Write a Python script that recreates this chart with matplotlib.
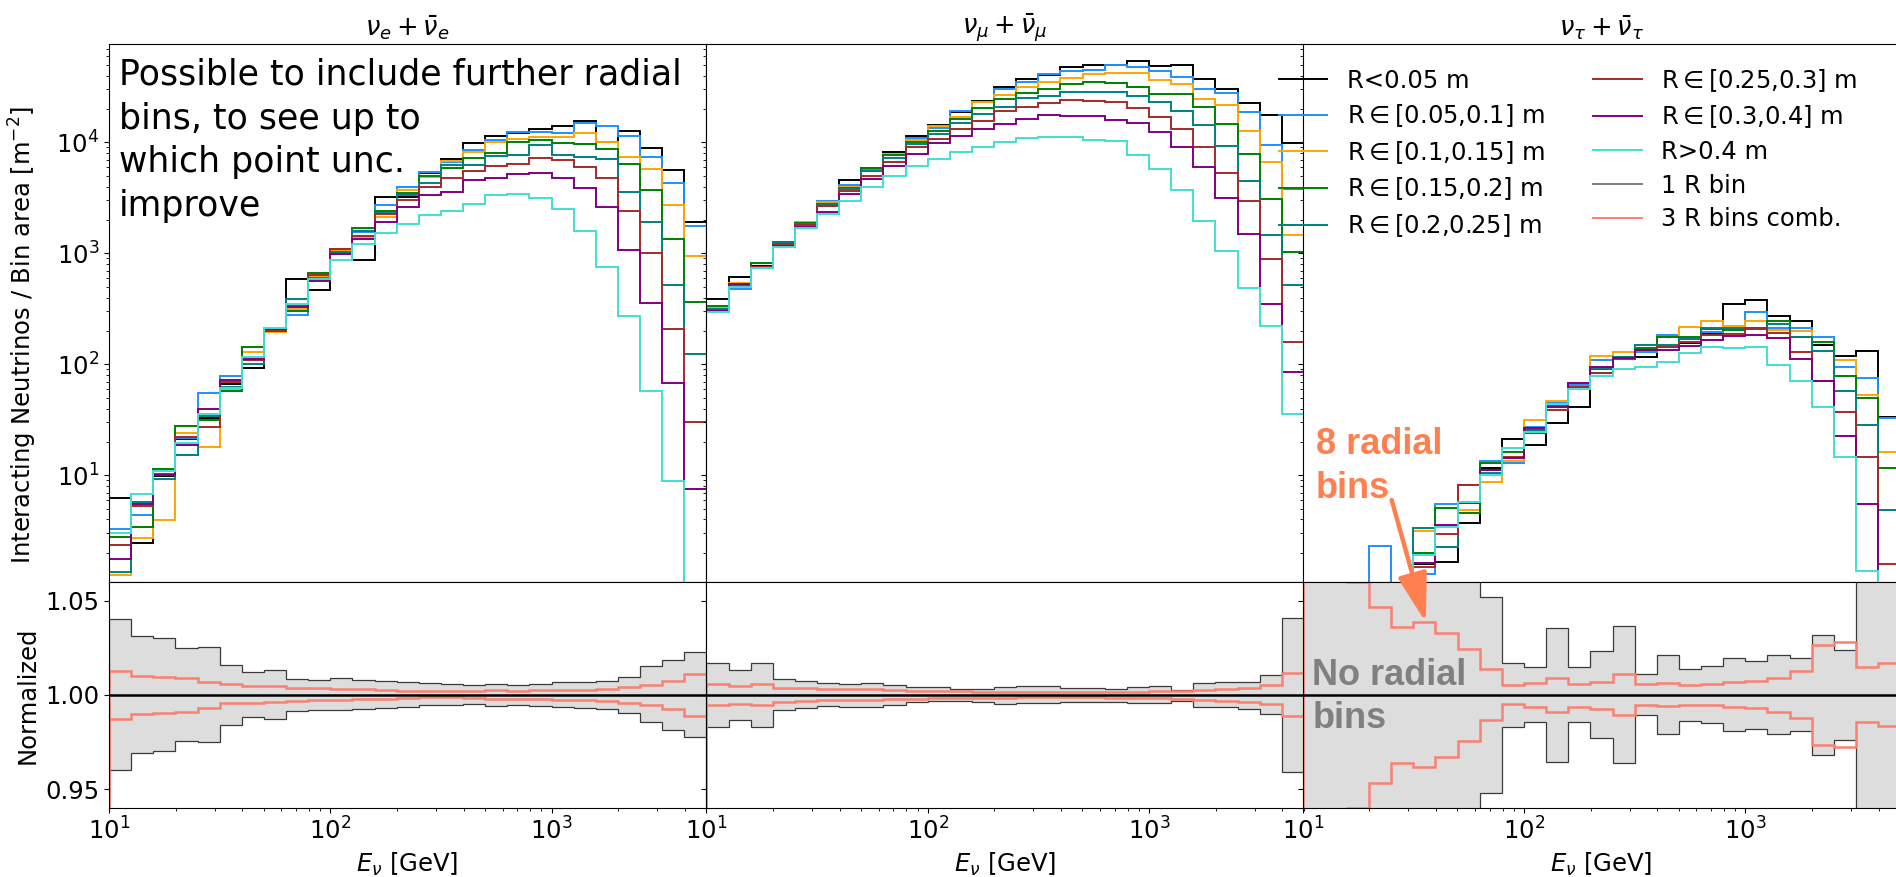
import numpy as np
import matplotlib
matplotlib.use("Agg")
import matplotlib.pyplot as plt
from matplotlib.lines import Line2D

plt.rcParams['font.family'] = ['DejaVu Sans']
plt.rcParams['mathtext.fontset'] = 'dejavusans'
FS = 17.5

# ---------------- data ----------------
# energy bin edges: 10 log bins per decade from 10 GeV
edges = np.logspace(1.0, 3.7, 28)

series_labels = ["R<0.05 m", r"R$\in$[0.05,0.1] m", r"R$\in$[0.1,0.15] m",
                 r"R$\in$[0.15,0.2] m", r"R$\in$[0.2,0.25] m", r"R$\in$[0.25,0.3] m",
                 r"R$\in$[0.3,0.4] m", "R>0.4 m"]
series_colors = ["black", "dodgerblue", "orange", "green", "teal", "brown", "purple", "turquoise"]
band_label = "1 R bin"
comb_label = "3 R bins comb."
titles = [r"$\nu_e + \bar{\nu}_e$", r"$\nu_\mu + \bar{\nu}_\mu$", r"$\nu_\tau + \bar{\nu}_\tau$"]

# nu_e + nu_e_bar
e_black = [6.3, 2.47, 9.9, 21.1, 33, 66, 93, 205, 583, 464, 1090, 870, 3200, 3240, 5330, 7080, 9790, 11400, 12050, 13090, 14030, 15560, 10140, 12740, 8830, 5630, 1930]
e_blue = [3.27, 4.4, 10.2, 21.6, 55.6, 79, 110, 198, 277, 590, 1040, 1550, 2720, 3990, 5440, 6700, 8530, 10500, 12300, 12480, 12220, 14830, 14130, 11400, 7330, 4340, 1760]
e_orange = [1.26, 2.7, 3.96, 24.2, 17.9, 60.5, 129, 195, 315, 620, 1050, 1400, 2140, 3720, 4910, 6840, 8240, 10140, 10640, 11090, 11090, 12050, 10140, 7330, 5710, 2720, 946]
e_green = [2.8, 3.45, 11.3, 28, 31.6, 57.5, 143, 200, 302, 660, 1010, 1700, 2420, 3470, 4980, 5830, 7170, 8070, 10140, 10500, 9790, 9660, 8710, 6380, 3720, 1350, 367]
e_teal = [1.34, 5.8, 9.2, 15.2, 34.5, 62, 100, 202, 385, 600, 1020, 1590, 2290, 3350, 4340, 6250, 6250, 7530, 7690, 9460, 7690, 7430, 7030, 3590, 1930, 519, 123]
e_brown = [2.35, 5.3, 10.3, 22.3, 27.5, 70, 109, 205, 335, 634, 1100, 1430, 2270, 3020, 3990, 4740, 5550, 6120, 6380, 7170, 6930, 6040, 4810, 2420, 1010, 208, 30]
e_purple = [1.76, 5.5, 10.0, 18.8, 39.6, 72, 112, 210, 330, 563, 990, 1335, 1930, 2630, 3350, 3590, 4580, 4810, 5190, 5330, 4810, 3850, 2630, 1070, 359, 68, 7.5]
e_turq = [3.0, 6.8, 11.0, 19.4, 35.5, 61.6, 116, 214, 350, 587, 870, 1220, 1515, 1840, 2210, 2410, 2780, 3350, 3430, 3170, 2510, 1600, 758, 272, 57, 8.8, 0]

# nu_mu + nu_mu_bar
m_black = [391, 617, 770, 1257, 1900, 2876, 4580, 5870, 8180, 11400, 14300, 18800, 23600, 31500, 37500, 40700, 47400, 49700, 49700, 54000, 49000, 50100, 36900, 30200, 22600, 17600, 9790]
m_blue = [320, 480, 760, 1200, 1850, 2958, 4100, 5700, 7900, 10860, 13500, 19000, 23100, 30000, 35000, 41000, 43900, 44800, 49700, 48000, 43900, 39100, 30200, 27600, 18800, 9530, 3830]
m_orange = [320, 545, 760, 1200, 1914, 2900, 4000, 5500, 7900, 10500, 14030, 17020, 23100, 27000, 31700, 35200, 38200, 41000, 42200, 41900, 36700, 33500, 24400, 21700, 12700, 6610, 1460]
m_green = [338, 500, 824, 1230, 1870, 2760, 3880, 5870, 7740, 10140, 12730, 16220, 20500, 24700, 28000, 30200, 33300, 35200, 34500, 31500, 27100, 27400, 20800, 14600, 7800, 3110, 1020]
m_teal = [315, 500, 760, 1257, 1850, 2700, 3800, 5520, 7300, 9600, 11800, 15030, 17980, 21000, 24900, 26300, 28600, 28400, 28400, 26300, 23100, 19300, 14300, 9270, 4450, 1460, 519]
m_brown = [310, 510, 750, 1200, 1800, 2650, 3670, 5010, 6700, 9010, 10790, 13190, 15660, 19000, 20700, 22800, 24000, 23600, 22900, 20200, 17000, 13100, 9140, 5260, 2980, 883, 159]
m_purple = [305, 526, 740, 1172, 1738, 2340, 3430, 4680, 6160, 7850, 9790, 11480, 13100, 14600, 16100, 17500, 17400, 17400, 15900, 14800, 12400, 9140, 6040, 3130, 1500, 350, 85]
m_turq = [298, 494, 740, 1132, 1680, 2245, 2980, 3960, 4980, 6120, 7080, 8130, 9010, 10000, 11000, 11200, 11200, 10600, 10300, 7640, 5750, 3720, 1950, 1050, 491, 221, 36]

# nu_tau + nu_tau_bar
t_black = [0, 0, 0, 0, 0, 1.59, 1.67, 3.7, 11.6, 21.1, 18.8, 29.4, 41.6, 84, 116, 117, 142, 155, 186, 352, 380, 272, 247, 149, 120, 133, 33.8]
t_blue = [0, 0, 0, 2.31, 0, 1.29, 5.5, 8.2, 13.5, 12.8, 27.4, 44.6, 65, 109, 116, 130, 185, 169, 197, 211, 294, 214, 211, 177, 95, 75, 32.7]
t_orange = [0, 0, 0, 0, 0, 3.15, 3.57, 4.9, 8.65, 13.5, 31.5, 47, 67.5, 120, 130, 135, 177, 218, 245, 221, 244, 204, 201, 160, 109, 53, 16.1]
t_green = [0, 0, 0, 0, 0, 1.98, 5.05, 4.6, 12.8, 16.3, 25.6, 42, 63, 90, 117, 139, 175, 175, 207, 204, 207, 247, 177, 160, 79, 49.4, 11.6]
t_teal = [0, 0, 0, 0, 0, 3.38, 2.24, 5.75, 10.4, 17.5, 25.2, 42, 63, 92, 117, 148, 149, 168, 211, 211, 211, 231, 175, 132, 57.5, 28.4, 4.9]
t_brown = [0, 0, 0, 0, 0, 1.48, 2.96, 8.2, 11.2, 14.6, 23.9, 38.8, 63, 83, 111, 136, 144, 160, 184, 188, 214, 193, 129, 71, 37, 14.7, 1.58]
t_purple = [0, 0, 0, 0, 0, 1.63, 3.55, 5.6, 11.1, 14.2, 26.5, 41.6, 68.4, 94, 113, 135, 135, 147, 166, 180, 184, 171, 112, 71, 22.7, 5.5, 0]
t_turq = [0, 0, 0, 0, 0, 1.91, 3.45, 5.8, 10.0, 17.5, 24.7, 44, 59.6, 78.5, 91, 95, 104, 126, 142, 139, 142, 99, 71, 41.6, 14.5, 1.38, 0]

# normalized uncertainty bands: "1 R bin" (gray) and "3 R bins comb." (salmon)
e_band_up = [1.040, 1.031, 1.030, 1.025, 1.0254, 1.016, 1.012, 1.013, 1.0084, 1.008, 1.0088, 1.008, 1.0075, 1.0066, 1.0063, 1.006, 1.0052, 1.006, 1.0054, 1.0059, 1.0066, 1.007, 1.0075, 1.0096, 1.0155, 1.0186, 1.0227]
e_band_lo = [0.960, 0.969, 0.970, 0.9754, 0.975, 0.9838, 0.988, 0.987, 0.9914, 0.9918, 0.992, 0.9923, 0.993, 0.9938, 0.9945, 0.9946, 0.995, 0.994, 0.9946, 0.994, 0.9936, 0.993, 0.9923, 0.9905, 0.9855, 0.9816, 0.9775]
e_comb_up = [1.0125, 1.0102, 1.0096, 1.0091, 1.007, 1.0059, 1.0045, 1.0048, 1.0036, 1.0034, 1.0032, 1.0029, 1.0025, 1.0023, 1.002, 1.002, 1.0021, 1.0025, 1.0023, 1.0025, 1.0027, 1.0027, 1.0032, 1.004, 1.0054, 1.0075, 1.011]
e_comb_lo = [0.9873, 0.990, 0.9905, 0.991, 0.9932, 0.9955, 0.9959, 0.9963, 0.9968, 0.9973, 0.9973, 0.9977, 0.998, 0.9982, 0.9986, 0.9986, 0.9982, 0.9977, 0.9977, 0.9977, 0.9973, 0.9971, 0.9968, 0.9959, 0.9946, 0.9923, 0.989]

m_band_up = [1.017, 1.0134, 1.0168, 1.0084, 1.0075, 1.0063, 1.0055, 1.0064, 1.0054, 1.0043, 1.0043, 1.0032, 1.0032, 1.0041, 1.0046, 1.0046, 1.0038, 1.0038, 1.0032, 1.0039, 1.0046, 1.0025, 1.0063, 1.0066, 1.007, 1.0105, 1.0407]
m_band_lo = [0.9829, 0.9868, 0.983, 0.992, 0.9929, 0.9941, 0.9938, 0.9936, 0.9946, 0.9961, 0.9968, 0.9968, 0.9963, 0.9954, 0.9955, 0.9955, 0.9964, 0.9961, 0.9964, 0.9959, 0.9959, 0.997, 0.9938, 0.9934, 0.9927, 0.9896, 0.9593]
m_comb_up = [1.0055, 1.0046, 1.0057, 1.0038, 1.0034, 1.0029, 1.003, 1.0029, 1.0025, 1.0023, 1.002, 1.0018, 1.0016, 1.0016, 1.0016, 1.0016, 1.0014, 1.0014, 1.0014, 1.0016, 1.002, 1.0021, 1.0027, 1.003, 1.0038, 1.0052, 1.0114]
m_comb_lo = [0.9948, 0.9954, 0.9946, 0.9963, 0.9968, 0.9971, 0.9973, 0.9973, 0.9977, 0.9979, 0.9982, 0.9984, 0.9984, 0.9984, 0.9986, 0.9986, 0.9986, 0.9986, 0.9984, 0.9984, 0.9982, 0.998, 0.9975, 0.997, 0.9963, 0.995, 0.9888]

t_band_up = [1.5, 1.5, 1.5, 1.5, 1.5, 1.5, 1.5, 1.5, 1.0518, 1.017, 1.0146, 1.0355, 1.0146, 1.023, 1.0364, 1.011, 1.0209, 1.0138, 1.0152, 1.0195, 1.0179, 1.0209, 1.0195, 1.032, 1.0239, 1.5, 1.5]
t_band_lo = [0.5, 0.5, 0.5, 0.5, 0.5, 0.5, 0.5, 0.5, 0.948, 0.9829, 0.9855, 0.9646, 0.9855, 0.9771, 0.9637, 0.9891, 0.9793, 0.9861, 0.9852, 0.9807, 0.9821, 0.9793, 0.9807, 0.9682, 0.9762, 0.5, 0.5]
t_comb_up = [1.5, 1.5, 1.0598, 1.0464, 1.036, 1.0384, 1.033, 1.0245, 1.0138, 1.0052, 1.0061, 1.0088, 1.0057, 1.0066, 1.011, 1.0057, 1.0063, 1.0054, 1.0057, 1.0066, 1.0075, 1.0088, 1.0125, 1.0266, 1.028, 1.015, 1.0168]
t_comb_lo = [0.5, 0.5, 0.9402, 0.9534, 0.9637, 0.9616, 0.967, 0.9757, 0.9864, 0.995, 0.9938, 0.9911, 0.9938, 0.9923, 0.9891, 0.9946, 0.9941, 0.9946, 0.9946, 0.9938, 0.9932, 0.9909, 0.9875, 0.9736, 0.9723, 0.9855, 0.9834]

panels = [
    dict(hists=[e_black, e_blue, e_orange, e_green, e_teal, e_brown, e_purple, e_turq],
         band=(e_band_up, e_band_lo), comb=(e_comb_up, e_comb_lo)),
    dict(hists=[m_black, m_blue, m_orange, m_green, m_teal, m_brown, m_purple, m_turq],
         band=(m_band_up, m_band_lo), comb=(m_comb_up, m_comb_lo)),
    dict(hists=[t_black, t_blue, t_orange, t_green, t_teal, t_brown, t_purple, t_turq],
         band=(t_band_up, t_band_lo), comb=(t_comb_up, t_comb_lo)),
]

# ---------------- layout ----------------
W, H = 1896, 877
fig = plt.figure(figsize=(W / 100, H / 100), dpi=100)
x0s = [109.0, 706.4, 1302.7]
pw = 597.3
y_top, y_mid, y_bot = 44.0, 581.7, 808.0

HIST_LW = 1.4
axes_bot = []
for i, p in enumerate(panels):
    axt = fig.add_axes([x0s[i] / W, 1 - y_mid / H, pw / W, (y_mid - y_top) / H])
    axb = fig.add_axes([x0s[i] / W, 1 - y_bot / H, pw / W, (y_bot - y_mid) / H])
    axes_bot.append(axb)

    for vals, c in zip(p["hists"], series_colors):
        v = np.asarray(vals, dtype=float)
        v = np.where(v > 0, v, 1e-3)
        axt.stairs(v, edges, baseline=1e-3, color=c, lw=HIST_LW)
    axt.set_xscale("log")
    axt.set_yscale("log")
    axt.set_xlim(10, 5000)
    axt.set_ylim(1.1, 7.7e4)
    axt.tick_params(labelbottom=False, labelsize=FS)
    axt.set_title(titles[i], fontsize=18.5)
    if i == 0:
        axt.set_ylabel(r"Interacting Neutrinos / Bin area [m$^{-2}$]", fontsize=FS)
        axt.yaxis.set_label_coords(-0.118, 0.459)
    else:
        axt.tick_params(labelleft=False)

    up, lo = p["band"]
    axb.stairs(up, edges, baseline=lo, fill=True, facecolor="#dddddd",
               edgecolor="#3a3a3a", linewidth=0.9)
    cu, cl = p["comb"]
    axb.stairs(cu, edges, baseline=0, color="salmon", lw=1.8)
    axb.stairs(cl, edges, baseline=0, color="salmon", lw=1.8)
    axb.axhline(1.0, color="black", lw=1.8)
    axb.set_xscale("log")
    axb.set_xlim(10, 5000)
    axb.set_ylim(0.94, 1.06)
    axb.set_yticks([0.95, 1.00, 1.05])
    axb.set_yticklabels(["0.95", "1.00", "1.05"])
    axb.tick_params(labelsize=FS)
    axb.set_xlabel(r"$E_\nu$ [GeV]", fontsize=FS)
    if i == 0:
        axb.set_ylabel("Normalized", fontsize=FS)
    else:
        axb.tick_params(labelleft=False)

# legend
handles = [Line2D([], [], color=c, lw=HIST_LW) for c in series_colors]
handles += [Line2D([], [], color="gray", lw=HIST_LW), Line2D([], [], color="salmon", lw=HIST_LW)]
labels = series_labels + [band_label, comb_label]
fig.legend(handles, labels, ncol=2, frameon=False, loc="upper left",
           bbox_to_anchor=(1257 / W, 1 - 45.0 / H), fontsize=FS, labelspacing=0.4)

# annotations (va='baseline' refers to the last line)
fig.text(119 / W, 1 - 216.1 / H,
         "Possible to include further radial\nbins, to see up to\nwhich point unc.\nimprove",
         fontsize=25, ha="left", va="baseline", linespacing=1.36)
fig.text(1316 / W, 1 - 498 / H, "8 radial\nbins", fontsize=26, fontweight="bold",
         family=["Liberation Sans", "DejaVu Sans"], color="coral", ha="left",
         va="baseline", linespacing=1.33)
fig.text(1312.5 / W, 1 - 728 / H, "No radial\nbins", fontsize=26, fontweight="bold",
         family=["Liberation Sans", "DejaVu Sans"], color="gray", ha="left",
         va="baseline", linespacing=1.3)
axes_bot[2].annotate("", xy=(36, 1.0384), xycoords="data",
                     xytext=(1391.7 / W, 1 - 500 / H), textcoords="figure fraction",
                     arrowprops=dict(arrowstyle="-|>,head_length=1.5,head_width=0.45",
                                     color="coral", lw=3.2, mutation_scale=20,
                                     shrinkA=0, shrinkB=0),
                     annotation_clip=False)

fig.savefig("out.png", dpi=100)
